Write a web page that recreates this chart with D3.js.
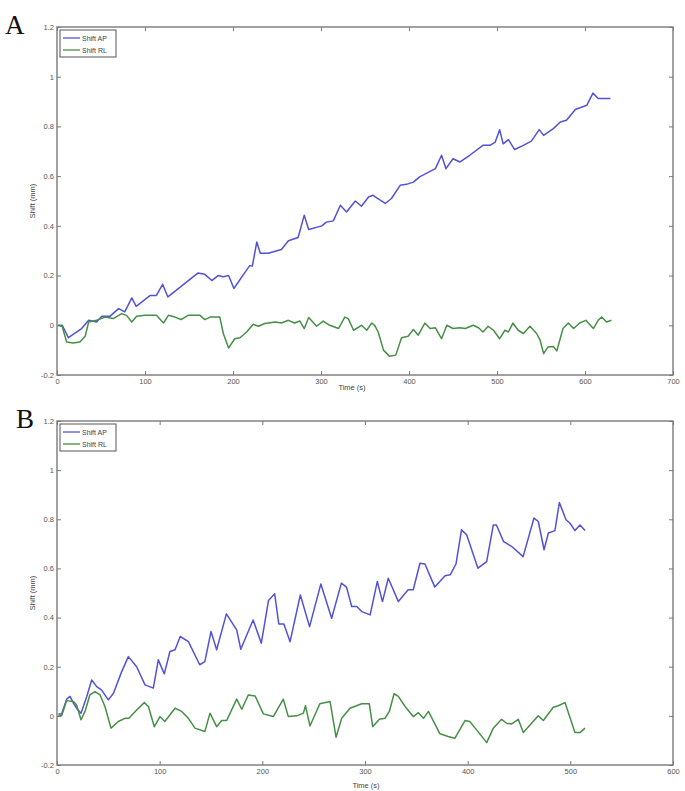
<!DOCTYPE html>
<html>
<head>
<meta charset="utf-8">
<script src="https://cdn.jsdelivr.net/npm/d3@7"></script>
<style>
  body { margin: 0; background: #fff; }
  svg { display: block; }
</style>
</head>
<body>
<svg id="chart" width="685" height="791"></svg>
<script>
// ---------- Data ----------
const seriesNames = ["Shift AP", "Shift RL"];
const panelLabels = ["A", "B"];
const yTicks = [-0.2, 0, 0.2, 0.4, 0.6, 0.8, 1, 1.2];
const yTickLabels = ["-0.2", "0", "0.2", "0.4", "0.6", "0.8", "1", "1.2"];
const xTicksA = [0, 100, 200, 300, 400, 500, 600, 700];
const xTicksB = [0, 100, 200, 300, 400, 500, 600];

// Panel A, Shift AP: [time (s), shift (mm)]
const apA = [
  [1.5,0],[6,0],[13,-0.05],[20,-0.033],[28,-0.013],[36,0.02],[45,0.013],[51,0.036],[60,0.036],
  [70,0.067],[77,0.054],[85,0.11],[90,0.076],[106,0.12],[113,0.12],[120,0.165],[126,0.114],
  [160,0.21],[168,0.205],[176,0.18],[183,0.2],[189,0.195],[195,0.2],[201,0.148],[214,0.215],
  [219,0.24],[222,0.238],[227,0.335],[231,0.29],[240,0.29],[255,0.305],[263,0.34],[274,0.353],
  [281,0.443],[286,0.385],[301,0.4],[306,0.415],[314,0.42],[322,0.483],[329,0.456],[339,0.5],
  [346,0.479],[354,0.516],[359,0.523],[373,0.49],[380,0.51],[390,0.563],[397,0.567],[405,0.576],
  [412,0.597],[430,0.63],[437,0.684],[442,0.63],[450,0.67],[458,0.657],[469,0.684],[484,0.724],
  [492,0.724],[498,0.737],[503,0.787],[507,0.73],[513,0.747],[520,0.707],[530,0.724],[539,0.741],
  [548,0.787],[553,0.764],[564,0.791],[572,0.818],[579,0.825],[589,0.868],[602,0.885],[609,0.934],
  [615,0.912],[629,0.912]
];
// Panel A, Shift RL
const rlA = [
  [1.5,0],[6,-0.005],[11,-0.067],[18.5,-0.071],[26,-0.067],[32,-0.044],[36,0.013],[45,0.02],
  [54.5,0.033],[64,0.027],[73.5,0.047],[79,0.04],[85,0.013],[90.5,0.036],[100,0.04],[113,0.04],
  [121,0.009],[126.5,0.04],[134,0.033],[141,0.023],[149,0.04],[162.5,0.04],[168,0.023],[174,0.033],
  [185,0.033],[189,-0.033],[195,-0.091],[202,-0.054],[208,-0.05],[215.5,-0.027],[223,0.004],
  [229,-0.004],[236,0.007],[248,0.013],[255,0.009],[263,0.02],[270,0.009],[276,0.017],[281,-0.013],
  [286,0.031],[295,-0.004],[302.5,0.017],[310,0],[320,-0.013],[327,0.033],[331,0.027],[337,-0.02],
  [346,0],[352,-0.02],[357.5,0.009],[361,0],[365,-0.027],[371,-0.1],[378,-0.125],[385,-0.12],
  [391.5,-0.05],[399,-0.044],[405,-0.017],[410.5,-0.04],[418,0.009],[424,-0.013],[430,-0.01],
  [437,-0.054],[443,0],[450,-0.013],[458,-0.01],[464,-0.013],[473,0],[479,-0.01],[484,-0.027],
  [490,-0.004],[496,-0.02],[503,-0.054],[509,-0.02],[513,-0.027],[518,0.009],[524,-0.02],
  [530,-0.033],[537.5,-0.004],[545,-0.033],[549,-0.06],[553,-0.114],[558,-0.087],[564,-0.085],
  [568,-0.103],[575,-0.013],[581,0.009],[587,-0.013],[594,0.009],[601,0.02],[609.5,-0.013],
  [615,0.02],[619,0.033],[624.5,0.013],[630,0.02]
];
// Panel B, Shift AP
const apB = [
  [1.3,0.008],[4.5,0.008],[9.4,0.068],[12.7,0.079],[16,0.052],[19,0.031],[23.4,0.011],[29,0.079],
  [33.8,0.146],[38.7,0.119],[43.5,0.105],[50,0.065],[55,0.092],[63,0.18],[69.5,0.241],[77.6,0.2],
  [85.7,0.126],[93.8,0.113],[98.7,0.228],[104.5,0.171],[110,0.262],[115,0.269],[120,0.323],
  [128,0.302],[139,0.208],[144,0.221],[150,0.343],[155.5,0.269],[165,0.415],[175,0.35],[179,0.271],
  [191,0.39],[199,0.296],[206,0.469],[212,0.497],[216,0.374],[221,0.374],[227,0.302],[237,0.492],
  [246,0.363],[257,0.537],[267.5,0.397],[277,0.54],[282,0.524],[287,0.445],[292,0.445],[297,0.424],
  [305,0.411],[312,0.547],[317,0.465],[322.7,0.56],[332.5,0.465],[342,0.513],[347,0.513],
  [353.5,0.621],[358.4,0.618],[368,0.524],[378,0.57],[383,0.574],[388.6,0.618],[394,0.757],
  [399,0.737],[410,0.601],[418.5,0.628],[425,0.777],[428,0.777],[435,0.709],[443,0.689],[454,0.648],
  [464.6,0.805],[468.8,0.791],[474.4,0.676],[478.6,0.744],[485,0.754],[489.3,0.868],[495.8,0.798],
  [499.7,0.784],[504.5,0.754],[509.4,0.777],[514.3,0.754]
];
// Panel B, Shift RL
const rlB = [
  [1.3,0],[4.5,0],[9.4,0.062],[16,0.058],[19,0.045],[23.4,-0.016],[27.3,0.018],[32,0.085],[37,0.099],
  [42,0.085],[46.7,0.038],[52.6,-0.05],[59.7,-0.023],[66.2,-0.01],[70,-0.01],[77.6,0.024],[85,0.054],
  [89,0.038],[94.8,-0.044],[100.3,-0.003],[105,-0.023],[115,0.031],[121.5,0.018],[128,-0.01],
  [134.4,-0.05],[144,-0.064],[149,0.011],[155.5,-0.044],[160.4,-0.019],[165.3,-0.019],[175,0.068],
  [180,0.027],[186.3,0.085],[193,0.081],[201,0.008],[210.7,-0.003],[220.4,0.068],[225.3,-0.003],
  [233.5,0],[240,0.011],[242,0.041],[246.4,-0.041],[256,0.049],[266,0.058],[271.8,-0.087],
  [277.3,-0.01],[285.4,0.031],[296.8,0.049],[304.2,0.049],[307.5,-0.044],[314,-0.014],[319.5,-0.01],
  [323.7,0.018],[328.3,0.09],[332.5,0.079],[339,0.038],[347,-0.003],[352,0.013],[357,-0.01],
  [361.8,0.018],[373,-0.073],[381,-0.084],[387.6,-0.091],[397.4,-0.019],[402,-0.023],[408.7,-0.057],
  [418.5,-0.109],[425,-0.05],[433,-0.014],[438,-0.03],[443,-0.033],[449.3,-0.014],[454.2,-0.068],
  [460.7,-0.037],[468.8,0],[473.7,-0.019],[483.4,0.035],[488.3,0.041],[494.8,0.054],[504.5,-0.068],
  [509.4,-0.068],[514.3,-0.05]
];

// ---------- Drawing ----------
const svg = d3.select("#chart");
const colors = ["#5252d8", "#468f46"];
const axisColor = "#7a7a7a";
const tickFont = "Liberation Sans, Arial, sans-serif";

function drawPanel(opt) {
  const g = svg.append("g");
  const x = d3.scaleLinear().domain(opt.xDomain).range([opt.left, opt.right]);
  const y = d3.scaleLinear().domain([-0.2, 1.2]).range([opt.bottom, opt.top]);

  g.append("rect")
    .attr("x", opt.left).attr("y", opt.top)
    .attr("width", opt.right - opt.left).attr("height", opt.bottom - opt.top)
    .attr("fill", "none").attr("stroke", axisColor).attr("stroke-width", 1.4);

  const tickStyle = sel => {
    sel.select(".domain").remove();
    sel.selectAll(".tick line").attr("stroke", axisColor).attr("stroke-width", 1);
    sel.selectAll(".tick text").attr("fill", "#555").style("font-family", tickFont).style("font-size", "7.5px");
  };
  g.append("g").attr("transform", `translate(0,${opt.bottom})`)
    .call(d3.axisBottom(x).tickValues(opt.xTicks).tickSizeInner(-4).tickSizeOuter(0).tickPadding(4).tickFormat(d3.format("d")))
    .call(tickStyle);
  g.append("g").attr("transform", `translate(0,${opt.top})`)
    .call(d3.axisTop(x).tickValues(opt.xTicks).tickSizeInner(-4).tickSizeOuter(0).tickFormat(""))
    .call(tickStyle);
  g.append("g").attr("transform", `translate(${opt.left},0)`)
    .call(d3.axisLeft(y).tickValues(yTicks).tickSizeInner(-4).tickSizeOuter(0).tickPadding(3)
      .tickFormat((d, i) => yTickLabels[i]))
    .call(tickStyle);
  g.append("g").attr("transform", `translate(${opt.right},0)`)
    .call(d3.axisRight(y).tickValues(yTicks).tickSizeInner(-4).tickSizeOuter(0).tickFormat(""))
    .call(tickStyle);

  g.append("text")
    .attr("x", opt.xLabelX).attr("y", opt.xLabelY)
    .attr("text-anchor", "middle").attr("fill", "#444")
    .style("font-family", tickFont).style("font-size", "7.5px")
    .text("Time (s)");
  g.append("text")
    .attr("transform", `translate(35,${(opt.top + opt.bottom) / 2}) rotate(-90)`)
    .attr("text-anchor", "middle").attr("fill", "#444")
    .style("font-family", tickFont).style("font-size", "7.5px")
    .text("Shift (mm)");

  const line = d3.line().x(d => x(d[0])).y(d => y(d[1]));
  opt.series.forEach((s, i) => {
    g.append("path").datum(s)
      .attr("d", line).attr("fill", "none")
      .attr("stroke", colors[i]).attr("stroke-width", 1.5)
      .attr("stroke-linejoin", "round");
  });

  const lg = g.append("g").attr("transform", `translate(${opt.left + 3},${opt.top + 3})`);
  lg.append("rect").attr("x", 0).attr("y", 0).attr("width", 56).attr("height", 27)
    .attr("fill", "#fff").attr("stroke", "#555").attr("stroke-width", 1);
  seriesNames.forEach((name, i) => {
    const yy = 8 + i * 12;
    lg.append("line").attr("x1", 3).attr("x2", 20).attr("y1", yy).attr("y2", yy)
      .attr("stroke", colors[i]).attr("stroke-width", 1.3);
    lg.append("text").attr("x", 22).attr("y", yy + 2.5)
      .attr("fill", "#444").style("font-family", tickFont).style("font-size", "7px")
      .text(name);
  });

  svg.append("text")
    .attr("x", opt.letterX).attr("y", opt.letterY)
    .style("font-family", "Liberation Serif, Times New Roman, serif")
    .style("font-size", "27px").attr("fill", "#111")
    .text(opt.letter);
}

drawPanel({
  letter: panelLabels[0], letterX: 5, letterY: 34,
  left: 57, right: 673, top: 27, bottom: 375,
  xDomain: [0, 700], xTicks: xTicksA, series: [apA, rlA],
  xLabelX: 352, xLabelY: 390
});
drawPanel({
  letter: panelLabels[1], letterX: 16, letterY: 428,
  left: 57, right: 673, top: 421, bottom: 765,
  xDomain: [0, 600], xTicks: xTicksB, series: [apB, rlB],
  xLabelX: 366, xLabelY: 788
});
</script>
</body>
</html>
